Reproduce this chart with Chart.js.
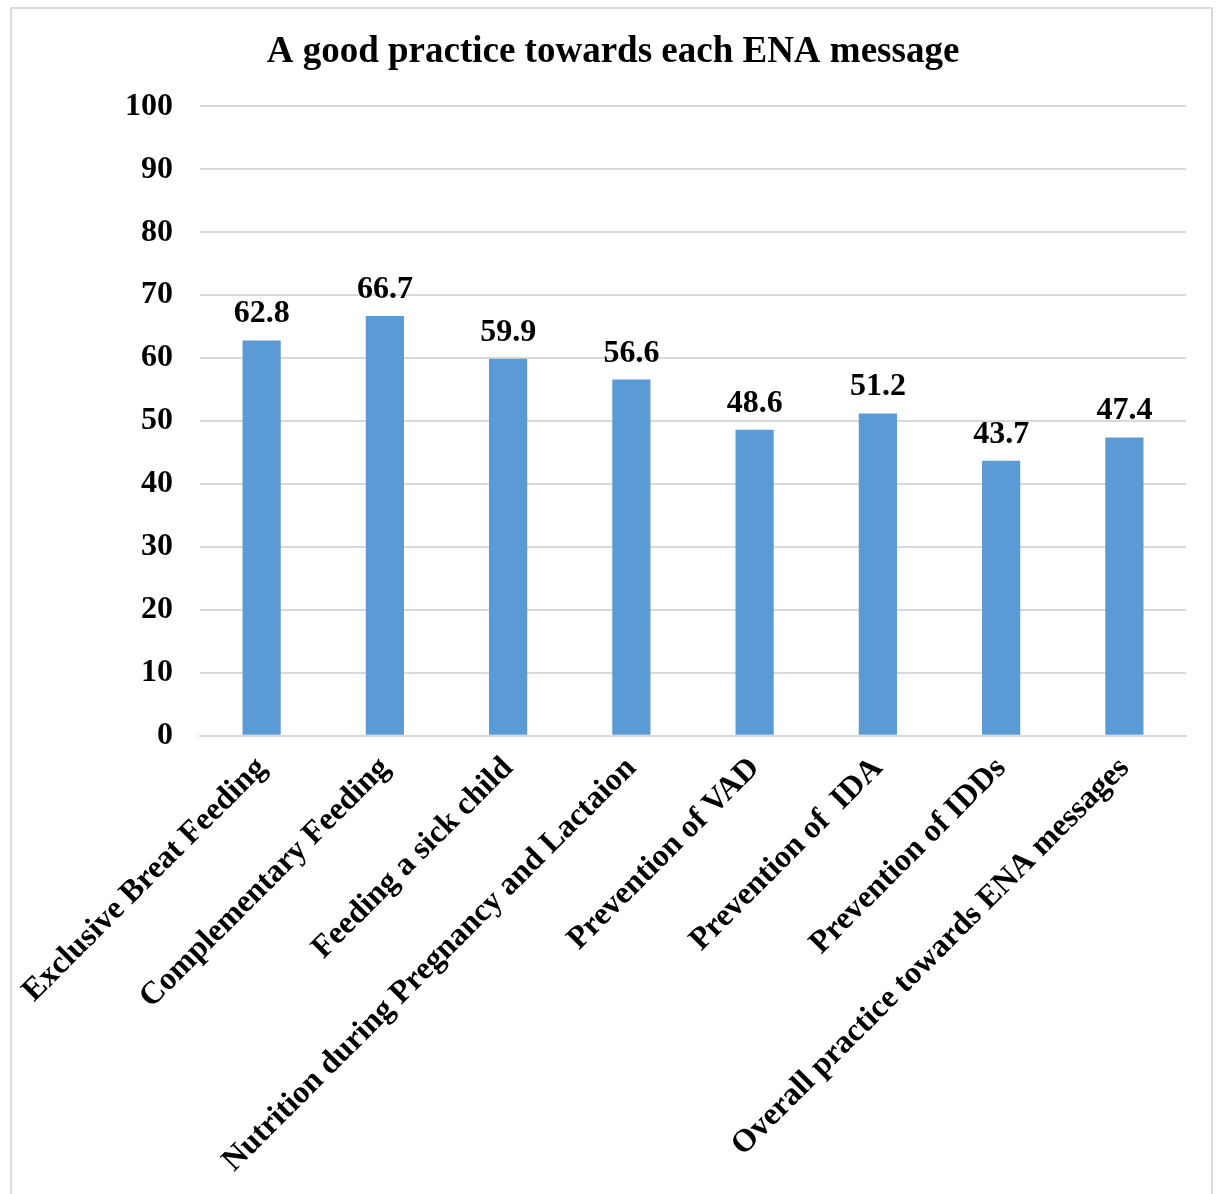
<!DOCTYPE html>
<html>
<head>
<meta charset="utf-8">
<script src="https://cdn.jsdelivr.net/npm/chart.js@4"></script>
<style>
  body { margin: 0; background: #fff; }
  #wrap { position: absolute; left: 0; top: 0; width: 1217px; height: 1194px; }
  #frame { position: absolute; left: 10px; top: 7px; width: 1203px; height: 1200px; border: 2px solid #dcdcdc; box-sizing: border-box; }
</style>
</head>
<body>
<div id="wrap">
  <div id="frame"></div>
  <canvas id="myChart" width="1217" height="1194"></canvas>
</div>
<script>
var messages = ['Exclusive Breat Feeding', 'Complementary Feeding', 'Feeding a sick child',
  'Nutrition during Pregnancy and Lactaion', 'Prevention of VAD', 'Prevention of  IDA',
  'Prevention of IDDs', 'Overall practice towards ENA messages'];
var goodPractice = [62.8, 66.7, 59.9, 56.6, 48.6, 51.2, 43.7, 47.4];
var yTicks = [0, 10, 20, 30, 40, 50, 60, 70, 80, 90, 100];

var serif = '"Liberation Serif", "Times New Roman", serif';

// value printed on top of each bar
var barValues = {
  id: 'barValues',
  afterDatasetsDraw: function(chart) {
    var ctx = chart.ctx;
    var meta = chart.getDatasetMeta(0);
    ctx.save();
    ctx.font = 'bold 32px ' + serif;
    ctx.fillStyle = '#000';
    ctx.textAlign = 'center';
    ctx.textBaseline = 'alphabetic';
    meta.data.forEach(function(bar, i) {
      ctx.fillText(goodPractice[i].toFixed(1), bar.x, bar.y - 18);
    });
    ctx.restore();
  }
};

var ctx = document.getElementById('myChart');
var myChart = new Chart(ctx, {
  type: 'bar',
  data: {
    labels: messages,
    datasets: [{
      data: goodPractice,
      backgroundColor: '#5b9bd5',
      categoryPercentage: 1,
      barPercentage: 0.31
    }]
  },
  options: {
    responsive: false,
    animation: false,
    layout: { autoPadding: false, padding: { left: 40, right: 31, top: 0, bottom: 0 } },
    plugins: {
      legend: { display: false },
      tooltip: { enabled: false },
      title: {
        display: true,
        text: 'A good practice towards each ENA message',
        color: '#000',
        font: { family: serif, size: 37, weight: 'bold' },
        padding: { top: 30, bottom: 32 }
      }
    },
    scales: {
      y: {
        min: 0,
        max: 100,
        afterBuildTicks: function(axis) {
          axis.ticks = yTicks.map(function(v) { return { value: v }; });
        },
        afterFit: function(axis) {
          axis.width = 160;
        },
        border: { display: false },
        grid: { color: '#d9d9d9', lineWidth: 2, drawTicks: false },
        ticks: {
          color: '#000',
          padding: 27,
          font: { family: serif, size: 32, weight: 'bold' }
        }
      },
      x: {
        border: { display: true, color: '#d9d9d9', width: 2 },
        grid: { display: false, drawTicks: false },
        afterFit: function(axis) {
          // rotated labels hang left past the axis; keep the plot edge fixed
          axis.paddingLeft = 0;
          axis.paddingRight = 0;
        },
        ticks: {
          color: '#000',
          minRotation: 45,
          maxRotation: 45,
          padding: 14,
          font: { family: serif, size: 32, weight: 'bold' }
        }
      }
    }
  },
  plugins: [barValues]
});
</script>
</body>
</html>
